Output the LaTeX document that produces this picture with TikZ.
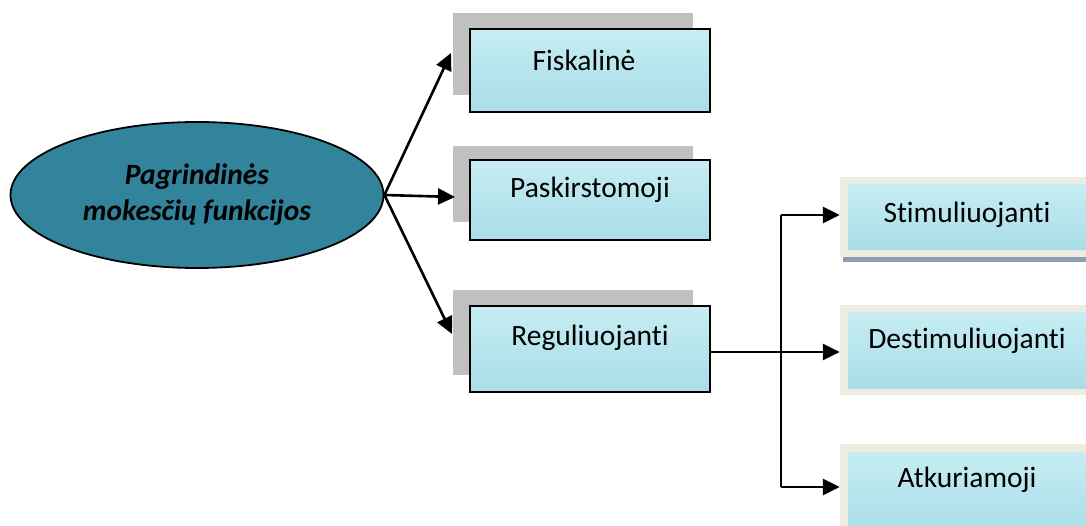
\documentclass[tikz,border=0pt]{standalone}
\usepackage{fontspec}
\setmainfont{Carlito}[Ligatures=NoCommon]
\usetikzlibrary{arrows.meta,shapes.geometric}
\definecolor{ellfill}{HTML}{31849B}
\definecolor{shadowgray}{HTML}{C0C0C0}
\definecolor{framebeige}{HTML}{EEECE1}
\definecolor{aquatop}{HTML}{C6EDF3}
\definecolor{aquabot}{HTML}{A9DDE7}
\definecolor{lineshadow}{HTML}{8C9DB3}
\begin{document}
\begin{tikzpicture}[x=1pt,y=-1pt,
  texture/.style={path picture={
      \fill[white, opacity=0.3] ([xshift=25pt,yshift=14pt]path picture bounding box.north west) ellipse (22pt and 12pt);
      \fill[white, opacity=0.25] ([xshift=-35pt,yshift=16pt]path picture bounding box.north east) ellipse (26pt and 10pt);
  }},
  shadowbox/.style={fill=shadowgray, draw=none, inner sep=0pt},
  mainbox/.style={draw=black, line width=2.4pt, top color=aquatop, bottom color=aquabot, inner sep=0pt, texture},
  framebox/.style={fill=framebeige, draw=none, inner sep=0pt},
  aquabox/.style={draw=none, top color=aquatop, bottom color=aquabot, inner sep=0pt, texture},
  lbl/.style={font=\fontsize{29.5}{34}\selectfont, text=black, inner sep=0pt},
  conn/.style={line width=2.6pt, -{Triangle[length=17pt,width=16pt]}},
  plain/.style={line width=2.3pt}
]
\useasboundingbox (0,0) rectangle (1086,526);
\clip (0,0) rectangle (1086,526);

% central ellipse
\node[ellipse, draw=black, line width=1.8pt, fill=ellfill, minimum width=373pt, minimum height=146pt, inner sep=0pt,
      align=center, font=\fontsize{29.5}{36}\selectfont\bfseries\itshape] (ell) at (197,195) {Pagrindinės\\mokesčių funkcijos};

% left column boxes
\node[shadowbox, minimum width=240pt, minimum height=82pt] (fisksh) at (573,54) {};
\node[mainbox, minimum width=240pt, minimum height=83pt] (fisk) at (590,70.5) {};
\node[lbl] (fisktx) at (584,60) {Fiskalinė};

\node[shadowbox, minimum width=240pt, minimum height=76pt] (pasksh) at (573,184) {};
\node[mainbox, minimum width=240pt, minimum height=80pt] (pask) at (590,200) {};
\node[lbl] (pasktx) at (590,190) {Paskirstomoji};

\node[shadowbox, minimum width=240pt, minimum height=85pt] (regsh) at (573,332.5) {};
\node[mainbox, minimum width=240pt, minimum height=86pt] (reg) at (590,349) {};
\node[lbl] (regtx) at (590,338) {Reguliuojanti};

% right column boxes
\fill[lineshadow] (843,257) rectangle (1086,262);
\node[framebox, minimum width=260pt, minimum height=80pt] (stimfr) at (970,217) {};
\node[aquabox, minimum width=250pt, minimum height=65pt] (stim) at (973,217.5) {};
\node[lbl] (stimtx) at (967,215) {Stimuliuojanti};

\node[framebox, minimum width=260pt, minimum height=90pt] (destfr) at (970,350) {};
\node[aquabox, minimum width=250pt, minimum height=75pt] (dest) at (973,350.5) {};
\node[lbl] (desttx) at (967,341) {Destimuliuojanti};

\node[framebox, minimum width=260pt, minimum height=90pt] (atkfr) at (970,489) {};
\node[aquabox, minimum width=250pt, minimum height=80pt] (atk) at (973,492) {};
\node[lbl] (atktx) at (967,480) {Atkuriamoji};

% connectors from ellipse
\coordinate (e0) at (ell.east);
\coordinate (t1) at (451,53);
\coordinate (t2) at (455,197);
\coordinate (t3) at (452,334);
\draw[conn] (e0) -- (t1);
\draw[conn] (e0) -- (t2);
\draw[conn] (e0) -- (t3);

% connectors from Reguliuojanti
\coordinate (v) at (781,352);
\coordinate (vtop) at (781,215);
\coordinate (vbot) at (781,487);
\draw[plain] (vtop) -- (vbot);
\draw[conn] (reg.east |- v) -- (destfr.west |- v);
\draw[conn] (vtop) -- (stimfr.west |- vtop);
\draw[conn] (vbot) -- (atkfr.west |- vbot);
\end{tikzpicture}
\end{document}
